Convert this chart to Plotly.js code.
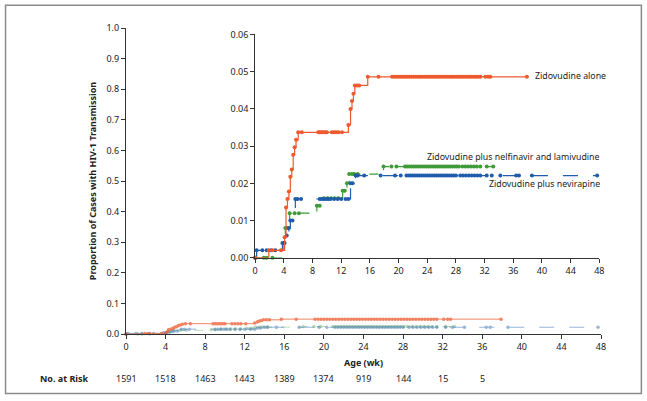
<!DOCTYPE html>
<html>
<head>
<meta charset="utf-8">
<script src="https://cdn.plot.ly/plotly-3.0.1.min.js"></script>
<style>html,body{margin:0;padding:0;background:#fff;}#chart{width:647px;height:401px;}</style>
</head>
<body>
<div id="chart"></div>
<script>
// ---- Data ----
const seriesNames = ["Zidovudine alone", "Zidovudine plus nelfinavir and lamivudine", "Zidovudine plus nevirapine"];

// Zidovudine alone: step times (events and censored points) and cumulative proportion
const zdvWeeks = [0, 1.9, 2.4, 3.6, 4.1, 4.3, 4.5, 4.7, 4.9, 5.1, 5.3, 5.5, 5.7, 6.0, 6.5,
  8.8, 9.0, 9.2, 9.4, 9.6, 9.8, 10.0, 10.7, 11.0, 11.3, 11.6, 12.1,
  13.0, 13.3, 13.5, 13.7, 13.9, 14.2, 14.5, 15.7, 17.2,
  19.1, 19.4, 19.7, 20.0, 20.3, 20.6, 20.9, 21.2, 21.5, 21.8, 22.1, 22.4, 22.7, 23.0, 23.3, 23.6, 23.9,
  24.2, 24.5, 24.8, 25.1, 25.4, 25.7, 26.0, 26.3, 26.6, 26.9, 27.2, 27.5, 27.8, 28.1, 28.4, 28.7,
  29.0, 29.3, 29.6, 29.9, 30.2, 30.5, 30.8, 31.1, 31.4, 32.1, 32.5, 32.8, 37.9];
const zdvProp = [0, 0.002, 0.002, 0.002, 0.0055, 0.0135, 0.0158, 0.0178, 0.0218, 0.0237, 0.0277, 0.0297, 0.0317, 0.0337, 0.0337,
  0.0337, 0.0337, 0.0337, 0.0337, 0.0337, 0.0337, 0.0337, 0.0337, 0.0337, 0.0337, 0.0337, 0.0337,
  0.0357, 0.0400, 0.0421, 0.0441, 0.0463, 0.0463, 0.0463, 0.0486, 0.0486,
  0.0486, 0.0486, 0.0486, 0.0486, 0.0486, 0.0486, 0.0486, 0.0486, 0.0486, 0.0486, 0.0486, 0.0486, 0.0486, 0.0486, 0.0486, 0.0486, 0.0486,
  0.0486, 0.0486, 0.0486, 0.0486, 0.0486, 0.0486, 0.0486, 0.0486, 0.0486, 0.0486, 0.0486, 0.0486, 0.0486, 0.0486, 0.0486, 0.0486,
  0.0486, 0.0486, 0.0486, 0.0486, 0.0486, 0.0486, 0.0486, 0.0486, 0.0486, 0.0486, 0.0486, 0.0486, 0.0486];

// Zidovudine plus nelfinavir and lamivudine
const nflWeeks = [0, 1.2, 1.6, 2.4, 4.0, 4.2, 4.5, 4.8, 5.5, 6.1, 8.6, 9.0, 9.6, 10.1, 10.6, 11.1, 11.6, 12.2, 12.5, 12.8, 13.1, 13.5, 13.8, 14.3,
  17.9, 19.0, 19.7,
  20.9, 21.2, 21.5, 21.8, 22.1, 22.4, 22.7, 23.0, 23.3, 23.6, 23.9, 24.2, 24.5, 24.8, 25.1, 25.4, 25.7, 26.0, 26.3, 26.6, 26.9, 27.2, 27.5, 27.8, 28.1, 28.4,
  28.9, 29.3, 29.7, 30.1, 30.5, 30.9, 31.4, 32.3, 33.2];
const nflProp = [0, 0, 0, 0, 0.004, 0.008, 0.008, 0.012, 0.012, 0.012, 0.014, 0.014, 0.016, 0.016, 0.016, 0.016, 0.016, 0.018, 0.018, 0.020, 0.0225, 0.0225, 0.0225, 0.0225,
  0.0245, 0.0245, 0.0245,
  0.0245, 0.0245, 0.0245, 0.0245, 0.0245, 0.0245, 0.0245, 0.0245, 0.0245, 0.0245, 0.0245, 0.0245, 0.0245, 0.0245, 0.0245, 0.0245, 0.0245, 0.0245, 0.0245, 0.0245, 0.0245, 0.0245, 0.0245, 0.0245, 0.0245, 0.0245,
  0.0245, 0.0245, 0.0245, 0.0245, 0.0245, 0.0245, 0.0245, 0.0245, 0.0245];

// Zidovudine plus nevirapine
const nvpWeeks = [0, 0.2, 1.0, 1.6, 2.2, 2.8, 3.8, 4.1, 4.4, 4.7, 4.9, 5.2, 5.6, 5.9, 6.4, 9.0, 9.3, 9.6, 9.9, 10.2, 10.5, 11.0, 11.5, 12.0, 12.6, 13.0,
  13.3, 13.6, 14.0, 14.3, 15.2, 17.5, 19.5, 20.3,
  21.1, 21.4, 21.7, 22.0, 22.3, 22.6, 22.9, 23.2, 23.5, 23.8, 24.1, 24.4, 24.7, 25.0, 25.3, 25.6, 25.9, 26.2, 26.5, 26.8, 27.1, 27.4, 27.7, 28.0,
  28.6, 29.0, 29.4, 29.8, 30.2, 30.6, 31.0, 31.4, 32.3, 33.0, 34.2, 36.4, 36.8, 38.6, 47.7];
const nvpProp = [0, 0.002, 0.002, 0.002, 0.002, 0.002, 0.004, 0.004, 0.006, 0.008, 0.010, 0.010, 0.0158, 0.0158, 0.0158, 0.0158, 0.0158, 0.0158, 0.0158, 0.0158, 0.0158, 0.0158, 0.0158, 0.0158, 0.0158, 0.0158,
  0.020, 0.020, 0.0221, 0.0221, 0.0221, 0.0221, 0.0221, 0.0221,
  0.0221, 0.0221, 0.0221, 0.0221, 0.0221, 0.0221, 0.0221, 0.0221, 0.0221, 0.0221, 0.0221, 0.0221, 0.0221, 0.0221, 0.0221, 0.0221, 0.0221, 0.0221, 0.0221, 0.0221, 0.0221, 0.0221, 0.0221, 0.0221,
  0.0221, 0.0221, 0.0221, 0.0221, 0.0221, 0.0221, 0.0221, 0.0221, 0.0221, 0.0221, 0.0221, 0.0221, 0.0221, 0.0221, 0.0221];

// Number at risk
const riskWeeks = [0, 4, 8, 12, 16, 20, 24, 28, 32, 36];
const riskCounts = ["1591", "1518", "1463", "1443", "1389", "1374", "919", "144", "15", "5"];

// ---- Styling ----
const FONT = "Noto Sans, Open Sans, sans-serif";
const TXT = "#222";
const colors = {zdv: "#EE5A2E", nfl: "#3F9A3A", nvp: "#1F5CAB"};
const groups = [
  {x: zdvWeeks, y: zdvProp, c: colors.zdv, dash: "solid", name: seriesNames[0], fade: 0.75},
  {x: nvpWeeks, y: nvpProp, c: colors.nvp, dash: "longdash", name: seriesNames[2], fade: 0.45},
  {x: nflWeeks, y: nflProp, c: colors.nfl, dash: "dash", name: seriesNames[1], fade: 0.35}
];

const traces = [];
// main (faded) curves
[groups[2], groups[1], groups[0]].forEach(g => {
  traces.push({
    x: g.x, y: g.y, type: "scatter", mode: "lines+markers", name: g.name,
    xaxis: "x", yaxis: "y", opacity: g.fade, cliponaxis: false,
    line: {color: g.c, width: 1, shape: "hv", dash: g.dash},
    marker: {color: g.c, size: 3.5, symbol: "circle"},
    hoverinfo: "skip", showlegend: false
  });
});
// inset curves
[groups[2], groups[1], groups[0]].forEach(g => {
  traces.push({
    x: g.x, y: g.y, type: "scatter", mode: "lines+markers", name: g.name,
    xaxis: "x2", yaxis: "y2", cliponaxis: false,
    line: {color: g.c, width: 1.2, shape: "hv", dash: g.dash},
    marker: {color: g.c, size: 4, symbol: "circle"},
    showlegend: false
  });
});

const annotations = [];
riskWeeks.forEach((w, i) => {
  annotations.push({x: w, xref: "x", y: -0.146, yref: "paper", text: riskCounts[i],
    showarrow: false, xanchor: "center", yanchor: "middle", font: {family: FONT, size: 9, color: TXT}});
});
annotations.push({x: -0.129, xref: "paper", y: -0.146, yref: "paper", text: "<b>No. at Risk</b>",
  showarrow: false, xanchor: "center", yanchor: "middle", font: {family: FONT, size: 9, color: TXT}});
annotations.push({x: 38.7, xref: "x2", y: 0.0487, yref: "y2", text: seriesNames[0],
  showarrow: false, xanchor: "left", yanchor: "middle", font: {family: FONT, size: 8.8, color: TXT}});
annotations.push({x: 48, xref: "x2", y: 0.0270, yref: "y2", text: seriesNames[1], xshift: 3,
  showarrow: false, xanchor: "right", yanchor: "middle", font: {family: FONT, size: 8.8, color: TXT}});
annotations.push({x: 48, xref: "x2", y: 0.0199, yref: "y2", text: seriesNames[2], xshift: 3,
  showarrow: false, xanchor: "right", yanchor: "middle", font: {family: FONT, size: 8.8, color: TXT}});

const axBase = {
  showgrid: false, zeroline: false, showline: true, linecolor: "#333", linewidth: 1,
  ticks: "outside", ticklen: 4, tickcolor: "#333", tickwidth: 1,
  tickfont: {family: FONT, size: 9, color: TXT}, fixedrange: true
};

const layout = {
  width: 647, height: 401,
  margin: {l: 126, r: 46, t: 28, b: 67},
  paper_bgcolor: "#fff", plot_bgcolor: "rgba(0,0,0,0)",
  showlegend: false,
  font: {family: FONT, color: TXT},
  xaxis: Object.assign({}, axBase, {
    range: [0, 48], tickmode: "array", tickvals: [0,4,8,12,16,20,24,28,32,36,40,44,48],
    title: {text: "<b>Age (wk)</b>", font: {family: FONT, size: 9, color: TXT}, standoff: 7}
  }),
  yaxis: Object.assign({}, axBase, {
    range: [0, 1], dtick: 0.1, tickformat: ".1f",
    title: {text: "<b>Proportion of Cases with HIV-1 Transmission</b>", font: {family: FONT, size: 9, color: TXT}, standoff: 8}
  }),
  xaxis2: Object.assign({}, axBase, {
    domain: [0.272, 0.9964], anchor: "y2", range: [0, 48],
    tickmode: "array", tickvals: [0,4,8,12,16,20,24,28,32,36,40,44,48]
  }),
  yaxis2: Object.assign({}, axBase, {
    domain: [0.249, 0.979], anchor: "x2", range: [0, 0.06], dtick: 0.01, tickformat: ".2f"
  }),
  shapes: [{
    type: "rect", xref: "paper", yref: "paper",
    x0: -0.2536, x1: 1.085, y0: -0.1947, y1: 1.074,
    line: {color: "#8a8a8a", width: 1.5}, fillcolor: "rgba(0,0,0,0)", layer: "below"
  }],
  annotations: annotations
};

Plotly.newPlot("chart", traces, layout, {staticPlot: true, displayModeBar: false});
</script>
</body>
</html>
